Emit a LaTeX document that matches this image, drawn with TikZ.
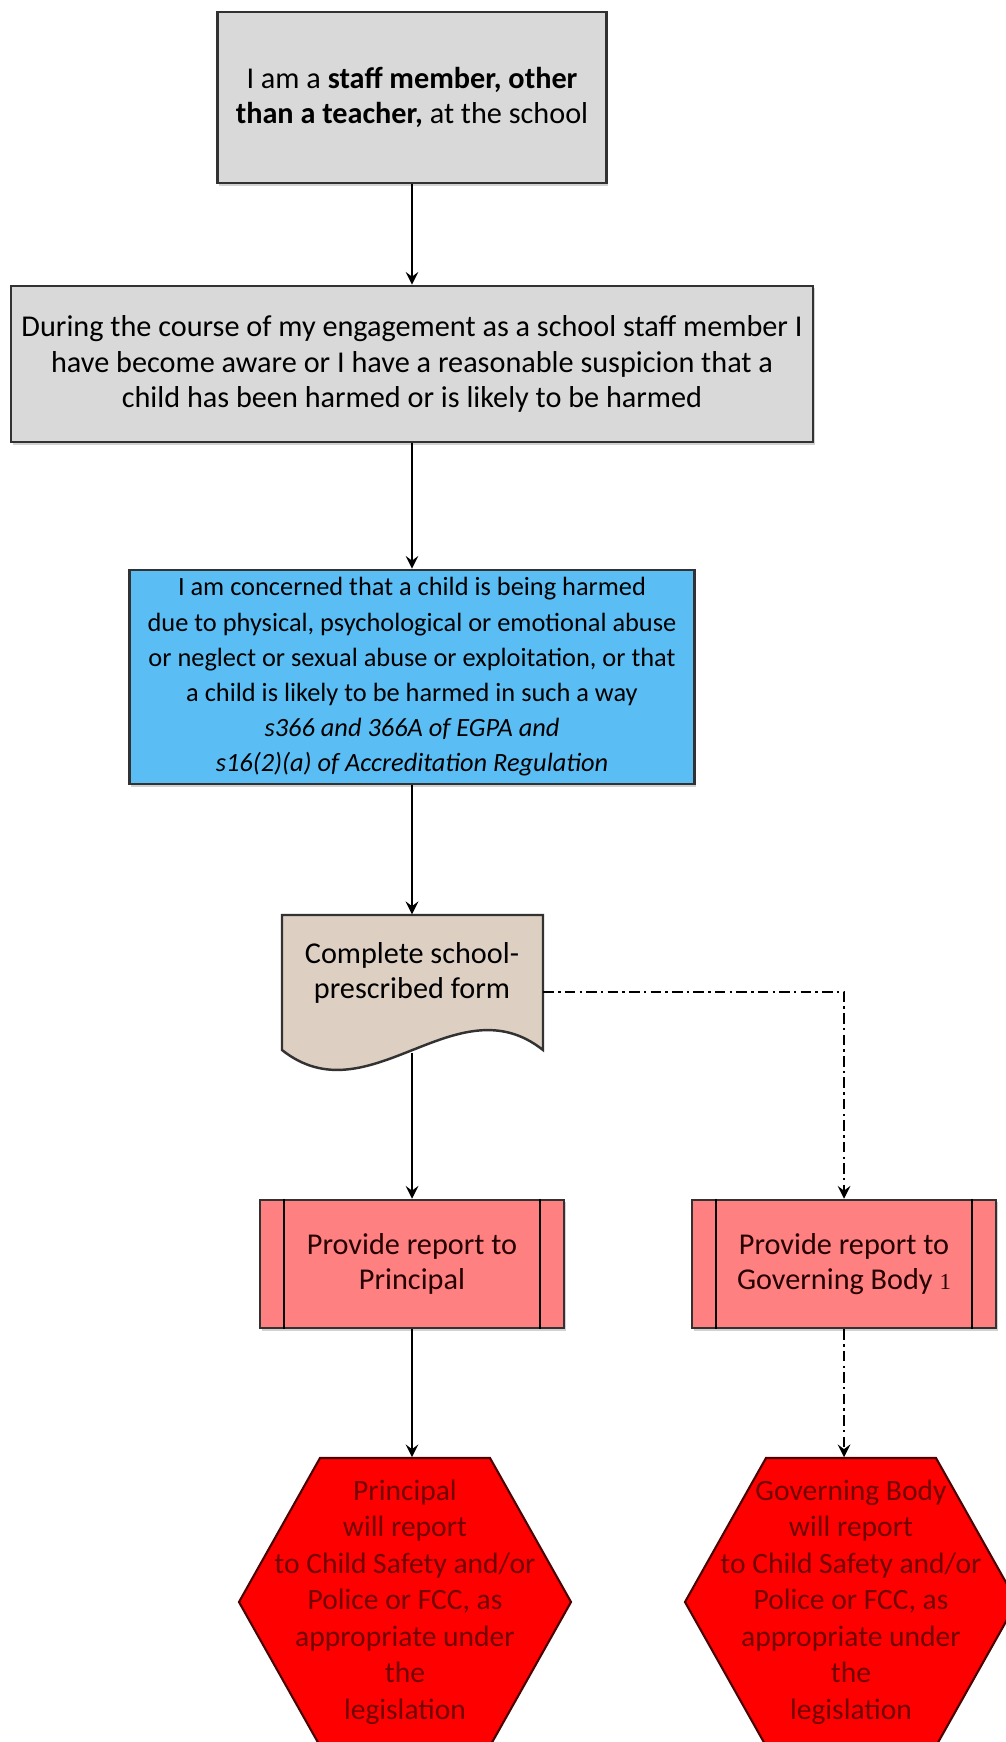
\documentclass[tikz,border=0pt]{standalone}
\usepackage{fontspec}
\setmainfont{Carlito}
\newfontfamily\notefont{Liberation Serif}
\usetikzlibrary{calc,shadows}

\definecolor{boxgray}{RGB}{217,217,217}
\definecolor{edgegray}{RGB}{50,50,50}
\definecolor{concernblue}{RGB}{90,190,245}
\definecolor{formtan}{RGB}{222,207,195}
\definecolor{reportpink}{RGB}{255,128,128}
\definecolor{alertred}{RGB}{255,0,0}
\definecolor{alerttext}{RGB}{115,0,0}

\newcommand{\legal}[1]{{\itshape\fontsize{7.5}{9}\selectfont #1}}

\begin{document}
\begin{tikzpicture}[x=0.01cm, y=-0.01cm, >=stealth,
        every node/.style={align=center, inner sep=0pt, font=\fontsize{8.6}{10}\selectfont},
        stepbox/.style={draw=edgegray, line width=0.7pt, drop shadow={shadow xshift=0.5pt, shadow yshift=-0.7pt, fill=black!35}},
        reportbox/.style={stepbox, fill=reportpink, text=black!85!red, minimum width=3.04cm, minimum height=1.28cm},
        alerttxt/.style={text=alerttext, minimum height=2.88cm, font=\fontsize{8.4}{10.4}\selectfont},
        flow/.style={->, line width=0.6pt},
        altflow/.style={->, line width=0.6pt, dash pattern=on 3pt off 1.2pt on 0.7pt off 1.2pt}]

    \useasboundingbox (0,0) rectangle (1006,1742);
    \clip (0,0) rectangle (1006,1742);

    \node[stepbox, fill=boxgray, minimum width=3.89cm, minimum height=1.71cm] (staff) at (412,97.5)
        {I am a \textbf{staff member, other}\\\textbf{than a teacher,} at the school};
    \node[stepbox, fill=boxgray, minimum width=8.02cm, minimum height=1.56cm] (aware) at (412,364)
        {During the course of my engagement as a school staff member I\\have become aware or I have a reasonable suspicion that a\\child has been harmed or is likely to be harmed};
    \node[stepbox, fill=concernblue, minimum width=5.65cm, minimum height=2.14cm, font=\fontsize{7.5}{10}\selectfont] (concern) at (412,677)
        {I am concerned that a child is being harmed\\due to physical, psychological or emotional abuse\\or neglect or sexual abuse or exploitation, or that\\a child is likely to be harmed in such a way\\\legal{s366 and 366A of EGPA and}\\\legal{s16(2)(a) of Accreditation Regulation}};

    % document shape
    \filldraw[fill=formtan, draw=edgegray, line width=0.7pt] (282,915) -- (543,915) -- (543,1050)
        .. controls (456,981) and (369,1119) .. (282,1050) -- cycle;
    \node[minimum width=2.61cm, minimum height=1.37cm, text depth=7.5pt] (form) at (412,983.5)
        {Complete school-\\prescribed form};

    \node[reportbox] (prin) at (412,1264) {Provide report to\\Principal};
    \node[reportbox] (gov) at (844,1264) {Provide report to\\Governing Body {\notefont\fontsize{6.5}{7}\selectfont 1}};
    \foreach \n in {prin, gov} {
        \draw[line width=0.6pt] ([xshift=0.25cm]\n.north west) -- ([xshift=0.25cm]\n.south west);
        \draw[line width=0.6pt] ([xshift=-0.25cm]\n.north east) -- ([xshift=-0.25cm]\n.south east);
    }

    % hexagons
    \foreach \cx in {405, 851} {
        \filldraw[fill=alertred, draw=black!70!red, line width=0.6pt] (\cx-85,1458) -- (\cx+85,1458) -- (\cx+166,1602)
            -- (\cx+85,1746) -- (\cx-85,1746) -- (\cx-166,1602) -- cycle;
    }
    \node[alerttxt] (pcp) at (405,1602)
        {Principal\\will report\\to Child Safety and/or\\Police or FCC, as\\appropriate under\\the\\legislation};
    \node[alerttxt] (gbd) at (851,1602)
        {Governing Body\\will report\\to Child Safety and/or\\Police or FCC, as\\appropriate under\\the\\legislation};

    \draw[flow] (staff) -- (aware);
    \draw[flow] (aware) -- (concern);
    \draw[flow] (concern) -- (form);
    \draw[flow] (form) -- (prin);
    \draw[flow] (prin) -- (prin |- pcp.north);
    \draw[altflow] ([yshift=-0.085cm]form.east) -| (gov);
    \draw[altflow] (gov) -- (gov |- gbd.north);
\end{tikzpicture}
\end{document}
